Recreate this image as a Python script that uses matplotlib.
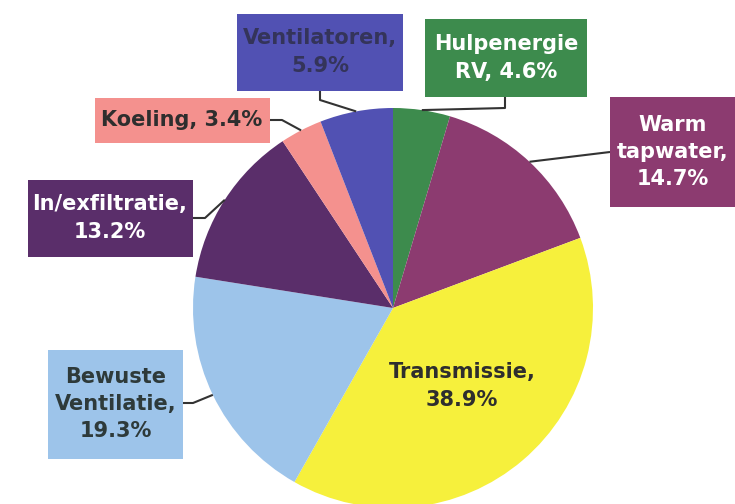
import numpy as np
import matplotlib.pyplot as plt
import matplotlib.patches as mpatches

# energy shares, clockwise from 12 o'clock
names = ['Hulpenergie\nRV', 'Warm\ntapwater', 'Transmissie', 'Bewuste\nVentilatie',
         'In/exfiltratie', 'Koeling', 'Ventilatoren']
shares = [4.6, 14.7, 38.9, 19.3, 13.2, 3.4, 5.9]
label_texts = ['Hulpenergie\nRV, 4.6%', 'Warm\ntapwater,\n14.7%', 'Transmissie,\n38.9%',
               'Bewuste\nVentilatie,\n19.3%', 'In/exfiltratie,\n13.2%', 'Koeling, 3.4%',
               'Ventilatoren,\n5.9%']
slice_colors = ['#3d8b4d', '#8c3b70', '#f6f03c', '#9dc4ea', '#5a2e6a', '#f4918e', '#5151b3']
text_colors = ['white', 'white', '#2e2e2e', '#2e3a3a', 'white', '#2e2e2e', '#34345a']

# layout in pixel coords (x right, y down): box (x0, y0, w, h), elbow point
boxes = [(425, 19, 162, 78), (610, 97, 135, 110), None, (48, 350, 135, 109),
         (28, 180, 165, 77), (95, 98, 175, 45), (237, 14, 166, 77)]
text_pos = [(506, 58), (673, 152), (462, 386), (116, 404), (110, 218), (182, 120), (320, 52)]
line_start = [(505, 97), (610, 152), None, (183, 403), (193, 218), (270, 120), (320, 91)]
elbows = [(505, 108), None, None, (193, 403), (205, 218), (282, 120), (320, 100)]

cx, cy, r = 393, 308, 200

fig = plt.figure(figsize=(7.35, 5.04), dpi=100)
ax = fig.add_axes([0, 0, 1, 1])

wedges, _ = ax.pie(shares, colors=slice_colors, startangle=-90, counterclock=True,
                   center=(cx, cy), radius=r, wedgeprops=dict(linewidth=0))
ax.set_xlim(0, 735)
ax.set_ylim(504, 0)
ax.axis('off')

for i, w in enumerate(wedges):
    if boxes[i] is not None:
        x0, y0, bw, bh = boxes[i]
        ax.add_patch(mpatches.Rectangle((x0, y0), bw, bh, facecolor=slice_colors[i],
                                        edgecolor='none', zorder=3))
    tx, ty = text_pos[i]
    ax.text(tx, ty, label_texts[i], ha='center', va='center', fontsize=15,
            fontweight='bold', color=text_colors[i], linespacing=1.45,
            family='DejaVu Sans', zorder=4)

    if line_start[i] is not None:
        mid = np.deg2rad((w.theta1 + w.theta2) / 2)
        ax_pt = (cx + r * np.cos(mid), cy + r * np.sin(mid))
        pts = [line_start[i]]
        if elbows[i] is not None:
            pts.append(elbows[i])
        pts.append(ax_pt)
        xs, ys = zip(*pts)
        ax.plot(xs, ys, color='#333333', lw=1.5, zorder=2, solid_capstyle='butt')

fig.savefig('out.png', dpi=100)
